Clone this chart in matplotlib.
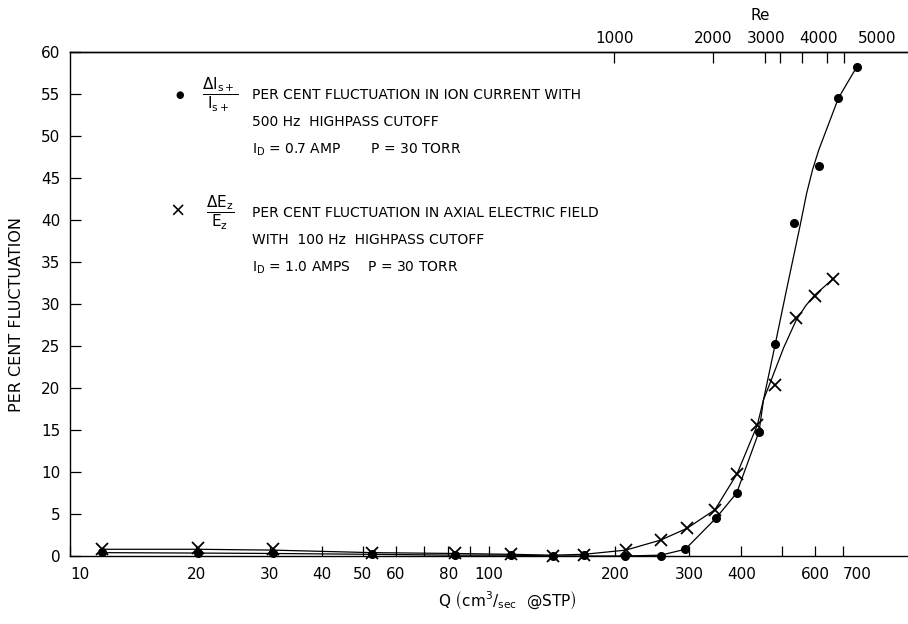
import matplotlib
matplotlib.use('Agg')
import matplotlib.pyplot as plt

plt.rcParams['font.family'] = ['DejaVu Sans']
plt.rcParams['mathtext.fontset'] = 'dejavusans'

# Q (cm^3/sec @ STP) and per cent fluctuation
ion_q = [11.9, 20.2, 30.5, 52.6, 83.0, 112.9, 141.9, 168.6, 211, 257, 294, 348, 390, 441, 482, 535, 612, 682, 754]
ion_pct = [0.5, 0.4, 0.4, 0.2, 0.1, 0.1, 0.0, 0.1, 0.0, 0.0, 0.8, 4.5, 7.5, 14.8, 25.2, 39.7, 46.4, 54.5, 58.2]

ez_q = [11.9, 20.2, 30.5, 52.6, 83.0, 112.9, 141.9, 168.6, 212, 257, 297, 346, 391, 437, 482, 540, 600, 663]
ez_pct = [0.8, 0.9, 0.8, 0.4, 0.3, 0.2, 0.0, 0.1, 0.7, 1.9, 3.3, 5.5, 9.8, 15.6, 20.4, 28.3, 31.0, 33.0]

# hand drawn curves (vertices)
ion_curve_q = [11.9, 20.2, 30.5, 52.6, 83.0, 112.9, 141.9, 168.6, 211, 257, 294, 348, 390, 441, 452, 482,
               513, 552, 573, 592, 612, 645, 682, 754]
ion_curve_pct = [0.4, 0.35, 0.3, 0.2, 0.1, 0.1, 0.0, 0.0, 0.0, 0.1, 0.8, 4.5, 7.5, 14.8, 18.6, 25.2,
                 31.7, 39.2, 43.2, 46.0, 48.3, 51.3, 54.5, 58.2]

ez_curve_q = [11.9, 20.2, 30.5, 52.6, 83.0, 112.9, 141.9, 168.6, 212, 257, 297, 346, 391, 437, 452, 467,
              505, 540, 570, 600, 663]
ez_curve_pct = [0.8, 0.8, 0.7, 0.4, 0.3, 0.2, 0.1, 0.2, 0.7, 1.9, 3.3, 5.5, 9.8, 15.6, 18.6, 20.4,
                24.8, 28.0, 29.8, 31.1, 33.0]

# axis ticks
x_ticks = [10, 20, 30, 40, 50, 60, 70, 80, 90, 100, 200, 300, 400, 500, 600, 700]
x_tick_labels = ['10', '20', '30', '40', '50', '60', '', '80', '', '100', '200', '300', '400', '', '600', '700']
y_ticks = list(range(0, 61, 5))

# top Reynolds number scale (positions given as Q)
re_tick_q = [199, 343, 456, 495, 558, 639, 705]
re_label_q = [199, 343, 458, 612, 844]
re_labels = ['1000', '2000', '3000', '4000', '5000']

fig = plt.figure(figsize=(9.08, 6.24), dpi=100)
ax = fig.add_axes([70/908, 1-556/624, 838/908, 504/624])

ax.plot(ion_curve_q, ion_curve_pct, color='black', lw=0.9, clip_on=False)
ax.plot(ez_curve_q, ez_curve_pct, color='black', lw=0.9, clip_on=False)
ax.plot(ion_q, ion_pct, 'o', color='black', ms=5.5, clip_on=False, zorder=3)
ax.plot(ez_q, ez_pct, 'x', color='black', ms=8, mew=1.3, clip_on=False, zorder=3)

ax.set_xscale('log')
ax.set_xlim(10, 1000)
ax.set_ylim(0, 60)
ax.spines['right'].set_visible(False)
for s in ['left', 'bottom', 'top']:
    ax.spines[s].set_linewidth(1.0)

ax.set_xticks(x_ticks)
ax.set_xticklabels(x_tick_labels)
ax.xaxis.set_minor_locator(plt.NullLocator())
ax.set_yticks(y_ticks)
ax.tick_params(axis='x', direction='in', length=7, width=0.9, pad=8, labelsize=11)
ax.tick_params(axis='y', direction='in', length=8, width=0.9, pad=7, labelsize=11)
xlabels = ax.get_xticklabels()
xlabels[0].set_horizontalalignment('left')
xlabels[-1].set_horizontalalignment('left')

# Re scale on top
sec = ax.secondary_xaxis('top')
sec.xaxis.remove_overlapping_locs = False
sec.set_xticks(re_label_q)
sec.set_xticklabels(re_labels)
sec.set_xticks(re_tick_q, minor=True)
sec.tick_params(axis='x', which='major', length=0, pad=4, labelsize=11)
sec.tick_params(axis='x', which='minor', direction='in', length=8, width=0.9)
sec.spines['top'].set_linewidth(1.0)
fig.text(760/908, 1-16/624, 'Re', ha='center', va='center', fontsize=11)

# axis titles
fig.text(17/908, 1-314/624, 'PER CENT FLUCTUATION', rotation=90, ha='center', va='center', fontsize=11.5)
fig.text(507/908, 1-600/624, r'Q $\left(\mathrm{cm}^{3}/_{\mathrm{sec}}\ \ @\mathrm{STP}\right)$',
         ha='center', va='center', fontsize=11)

# key
fs = 10
fig.text(180/908, 1-95/624, '\u25CF', ha='center', va='center', fontsize=7)
fig.text(220/908, 1-95/624, r'$\dfrac{\Delta \mathrm{I}_{\mathrm{s+}}}{\mathrm{I}_{\mathrm{s+}}}$',
         ha='center', va='center', fontsize=11)
fig.text(252/908, 1-95/624, 'PER CENT FLUCTUATION IN ION CURRENT WITH', va='center', fontsize=fs)
fig.text(252/908, 1-122/624, '500 Hz  HIGHPASS CUTOFF', va='center', fontsize=fs)
fig.text(252/908, 1-150/624, r'I$_{\mathrm{D}}$ = 0.7 AMP       P = 30 TORR', va='center', fontsize=fs)

fig.text(178/908, 1-211/624, '\u00D7', ha='center', va='center', fontsize=14)
fig.text(220/908, 1-213/624, r'$\dfrac{\Delta \mathrm{E}_{\mathrm{z}}}{\mathrm{E}_{\mathrm{z}}}$',
         ha='center', va='center', fontsize=11)
fig.text(252/908, 1-213/624, 'PER CENT FLUCTUATION IN AXIAL ELECTRIC FIELD', va='center', fontsize=fs)
fig.text(252/908, 1-240/624, 'WITH  100 Hz  HIGHPASS CUTOFF', va='center', fontsize=fs)
fig.text(252/908, 1-268/624, r'I$_{\mathrm{D}}$ = 1.0 AMPS    P = 30 TORR', va='center', fontsize=fs)

fig.savefig('out.png', dpi=100)
